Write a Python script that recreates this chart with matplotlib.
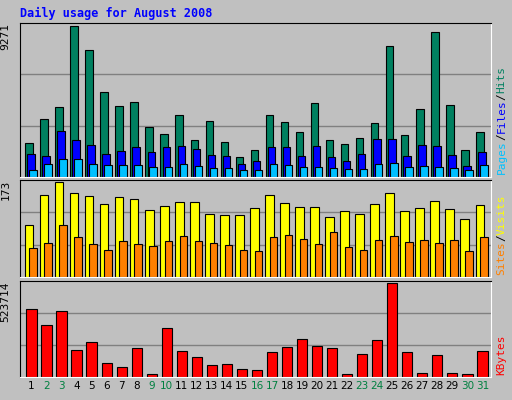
import matplotlib
matplotlib.use("Agg")
from matplotlib import pyplot as plt

days = list(range(1, 32))
weekend = [2, 3, 9, 10, 16, 17, 23, 24, 30, 31]

hits = [2065, 3582, 4277, 9271, 7817, 5225, 4340, 4593, 3076, 2634, 3835, 2254, 3455, 2128, 1243, 1686,
        3835, 3392, 2760, 4530, 2254, 2002, 2381, 3329, 8070, 2571, 4151, 8892, 4404, 1686, 2760]
files = [1433, 1306, 2823, 2254, 1938, 1433, 1622, 1812, 1559, 1812, 1875, 1749, 1370, 1306, 801, 990,
         1812, 1812, 1306, 1875, 1243, 990, 1433, 2318, 2318, 1306, 1938, 1875, 1370, 674, 1559]
pages = [421, 801, 1117, 1117, 801, 737, 737, 737, 611, 611, 801, 674, 548, 548, 421, 421,
         801, 737, 611, 611, 548, 485, 485, 801, 864, 611, 674, 611, 548, 421, 737]
visits = [94, 150, 173, 152, 147, 133, 145, 141, 122, 130, 137, 137, 114, 113, 113, 126,
          150, 135, 128, 128, 109, 120, 114, 133, 152, 120, 126, 139, 124, 105, 131]
sites = [52, 62, 94, 73, 60, 50, 65, 60, 56, 65, 75, 65, 62, 58, 50, 47,
         73, 77, 69, 60, 82, 54, 50, 67, 75, 64, 67, 62, 67, 48, 73]
kbytes = [379800, 287700, 368300, 149600, 195600, 80600, 57500, 161100, 17300, 270400, 143900,
          109300, 69000, 74800, 46000, 40300, 138100, 166900, 212900, 172600, 161100, 17300,
          126600, 207100, 523714, 138100, 23000, 120800, 23000, 17300, 143900]

bg = "#c0c0c0"
mono = "DejaVu Sans Mono"

fig = plt.figure(figsize=(5.12, 4.0), dpi=100, facecolor=bg)
fig.text(0.039, 0.967, "Daily usage for August 2008", color="#0000ff", family=mono,
         weight="bold", fontsize=8.5, va="center")

panels = [
    (0.5575, 0.385, max(hits)),
    (0.3075, 0.2425, max(visits)),
    (0.0575, 0.24, max(kbytes)),
]
axes = []
for bottom, height, top in panels:
    ax = fig.add_axes([0.039, bottom, 0.92, height], facecolor=bg)
    ax.set_xlim(0.135, 31.47)
    ylim = top * 1.02
    ax.set_ylim(0, ylim)
    for f in (1 / 3, 2 / 3):
        ax.axhline(ylim * f, color="#808080", lw=1, zorder=0)
    ax.set_xticks([])
    ax.set_yticks([])
    for s in ax.spines.values():
        s.set_color("black")
    ax.spines["bottom"].set_color("white")
    ax.spines["right"].set_color("white")
    ax.text(-0.02, 1.0, str(top), transform=ax.transAxes, rotation=90, ha="right", va="top",
            family=mono, fontsize=8)
    axes.append(ax)

w = 0.5
ek = dict(edgecolor="black", linewidth=0.8)
axes[0].bar([d - 0.27 for d in days], hits, w, color="#008060", **ek)
axes[0].bar([d - 0.13 for d in days], files, w, color="#0000ff", **ek)
axes[0].bar([d + 0.0 for d in days], pages, w, color="#00c0ff", **ek)
axes[1].bar([d - 0.27 for d in days], visits, 0.58, color="#ffff00", **ek)
axes[1].bar([d + 0.0 for d in days], sites, w, color="#ff8000", **ek)
axes[2].bar([d - 0.1 for d in days], kbytes, 0.68, color="#ff0000", **ek)

# right side legends, stacked bottom to top
renderer = fig.canvas.get_renderer()
def side(ax, parts):
    y = 0.02
    for txt, col in parts:
        t = ax.text(1.012, y, txt, transform=ax.transAxes, rotation=90, ha="left", va="bottom",
                    family=mono, fontsize=8, color=col)
        bb = t.get_window_extent(renderer).transformed(ax.transAxes.inverted())
        y = bb.y1

side(axes[0], [("Pages", "#00c0ff"), ("/", "black"), ("Files", "#0000ff"), ("/", "black"), ("Hits", "#008060")])
side(axes[1], [("Sites", "#ff8000"), ("/", "black"), ("Visits", "#ffff00")])
side(axes[2], [("KBytes", "#ff0000")])

for d in days:
    axes[2].text(d - 0.1, -0.09, str(d), transform=axes[2].get_xaxis_transform(), ha="center",
                 va="center", fontsize=7.5, color="#008040" if d in weekend else "black")

fig.savefig("out.png", dpi=100, facecolor=bg)
